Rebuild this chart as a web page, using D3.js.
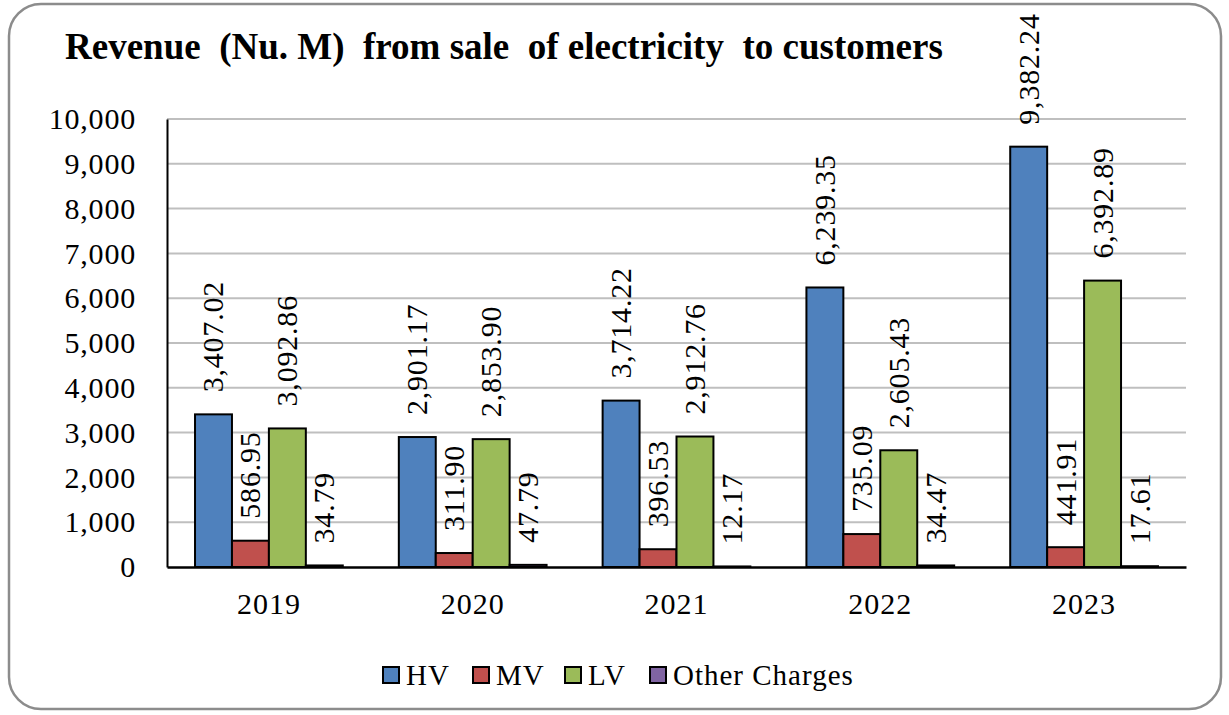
<!DOCTYPE html>
<html><head><meta charset="utf-8">
<script src="https://cdn.jsdelivr.net/npm/d3@7"></script>
<style>body{margin:0;background:#fff}svg{display:block}text{font-family:"Liberation Serif",serif}</style>
</head><body><svg id="c" width="1229" height="715"></svg>
<script>
const years = ["2019","2020","2021","2022","2023"];
const seriesNames = ["HV","MV","LV","Other Charges"];
const hv = [3407.02, 2901.17, 3714.22, 6239.35, 9382.24];
const mv = [586.95, 311.90, 396.53, 735.09, 441.91];
const lv = [3092.86, 2853.90, 2912.76, 2605.43, 6392.89];
const other = [34.79, 47.79, 12.17, 34.47, 17.61];
const colors = ["#4f81bd","#c0504d","#9bbb59","#8064a2"];
const yTicks = [0,1000,2000,3000,4000,5000,6000,7000,8000,9000,10000];
const title = "Revenue  (Nu. M)  from sale  of electricity  to customers";

const svg = d3.select("#c");
svg.append("rect").attr("x",9).attr("y",4).attr("width",1212).attr("height",705)
  .attr("rx",32).attr("fill","#fff").attr("stroke","#8c8c8c").attr("stroke-width",2.5);

svg.append("text").attr("x",65).attr("y",59).attr("font-size",37).attr("font-weight","bold")
  .style("white-space","pre").text(title);

const L=167,R=1186,T=119,B=567;
const x0 = d3.scaleBand().domain(years).range([L,R]).paddingInner(0.275).paddingOuter(0.1375);
const x1 = d3.scaleBand().domain(seriesNames).range([0,x0.bandwidth()]);
const y = d3.scaleLinear().domain([0,10000]).range([B,T]);

const g = svg.append("g");
g.selectAll("line.grid").data(yTicks.filter(d=>d>0)).join("line")
  .attr("x1",L).attr("x2",R).attr("y1",d=>y(d)).attr("y2",d=>y(d))
  .attr("stroke","#bfbfbf").attr("stroke-width",2);

const yAxis = svg.append("g").attr("transform",`translate(${L},0)`)
  .call(d3.axisLeft(y).tickValues(yTicks).tickFormat(d3.format(",")).tickSize(0).tickPadding(31));
yAxis.select(".domain").attr("stroke","#000").attr("stroke-width",2);
yAxis.selectAll("text").attr("font-size",30).attr("fill","#000")
  .style("font-family","Liberation Serif").style("letter-spacing","0.8px");

const data = [hv,mv,lv,other];
const rows = [];
years.forEach((yr,i)=>seriesNames.forEach((s,j)=>rows.push({yr,s,v:data[j][i],c:colors[j]})));

g.selectAll("rect.bar").data(rows).join("rect")
  .attr("x",d=>x0(d.yr)+x1(d.s)).attr("width",x1.bandwidth())
  .attr("y",d=>y(d.v)).attr("height",d=>B-y(d.v))
  .attr("fill",d=>d.c).attr("stroke","#000").attr("stroke-width",2);

g.selectAll("text.lbl").data(rows).join("text")
  .attr("transform",d=>`translate(${x0(d.yr)+x1(d.s)+x1.bandwidth()/2+10},${y(d.v)-22}) rotate(-90)`)
  .attr("font-size",30).attr("fill","#000").style("letter-spacing","0.8px")
  .text(d=>d3.format(",.2f")(d.v));

const xAxis = svg.append("g").attr("transform",`translate(0,${B})`)
  .call(d3.axisBottom(x0).tickSize(0).tickPadding(26));
xAxis.select(".domain").attr("stroke","#000").attr("stroke-width",2.5);
xAxis.selectAll("text").attr("font-size",30).attr("fill","#000")
  .style("font-family","Liberation Serif").style("letter-spacing","1px");

const legX = [383,473,565,650];
const leg = svg.append("g");
seriesNames.forEach((s,j)=>{
  leg.append("rect").attr("x",legX[j]).attr("y",667).attr("width",16).attr("height",16)
    .attr("fill",colors[j]).attr("stroke","#000").attr("stroke-width",2);
  leg.append("text").attr("x",legX[j]+23).attr("y",685).attr("font-size",29)
    .style("letter-spacing","1px").text(s);
});
</script></body></html>
